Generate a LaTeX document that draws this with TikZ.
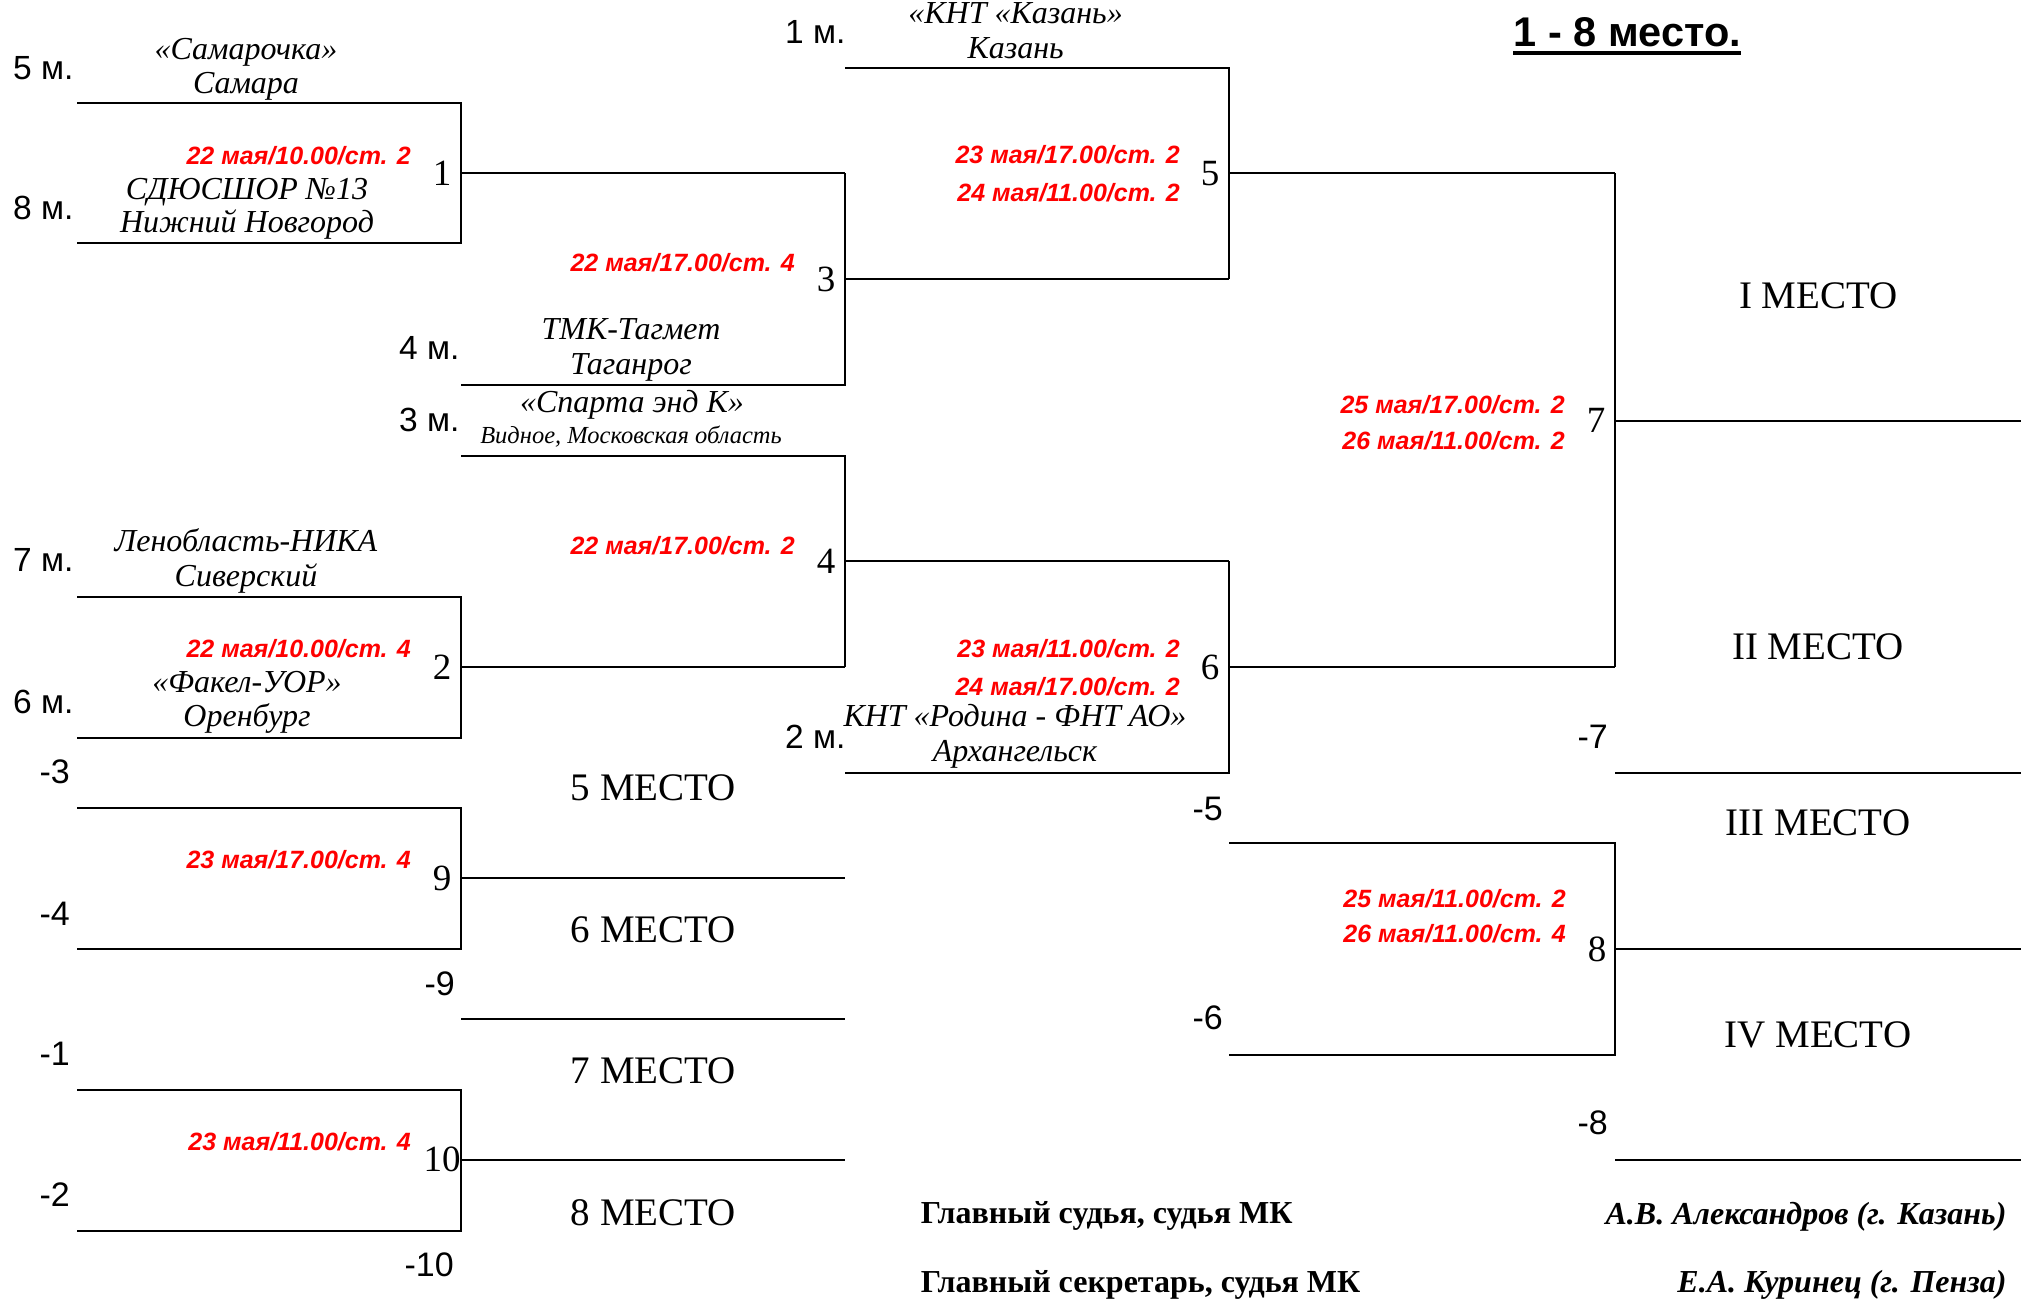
\documentclass[tikz,border=0pt]{standalone}
\usepackage{fontspec}
\setmainfont{Liberation Serif}
\newfontfamily\arial{Liberation Sans}
\begin{document}
\begin{tikzpicture}[x=1bp,y=-1bp,
  ln/.style={line width=2.2bp},
  plc/.style={font=\arial\fontsize{33.5bp}{40bp}\selectfont, inner sep=0pt, anchor=base west},
  neg/.style={font=\arial\fontsize{34bp}{40bp}\selectfont, inner sep=0pt, anchor=base east},
  team/.style={font=\itshape\fontsize{32bp}{36bp}\selectfont, inner sep=0pt, anchor=base},
  teamsmall/.style={font=\itshape\fontsize{24.5bp}{26bp}\selectfont, inner sep=0pt, anchor=base},
  sched/.style={font=\arial\bfseries\itshape\fontsize{25bp}{30bp}\selectfont, text=red, inner sep=0pt, anchor=base east},
  num/.style={font=\fontsize{37bp}{40bp}\selectfont, inner sep=0pt, anchor=base},
  placebox/.style={font=\fontsize{39bp}{44bp}\selectfont, inner sep=0pt, anchor=base},
  judge/.style={font=\bfseries\fontsize{32bp}{36bp}\selectfont, inner sep=0pt},
  judgename/.style={font=\bfseries\itshape\fontsize{32bp}{36bp}\selectfont, inner sep=0pt, anchor=base east},
]
\useasboundingbox (0,0) rectangle (2027,1300);

% ---------- coordinates ----------
% Match 1
\coordinate (s5a) at (77,103.4);  \coordinate (s5b) at (461,103.4);
\coordinate (s8a) at (77,243);    \coordinate (s8b) at (461,243);
\coordinate (w1a) at (461,173.3); \coordinate (w1b) at (845,173.3);
% Match 2
\coordinate (s7a) at (77,597);    \coordinate (s7b) at (461,597);
\coordinate (s6a) at (77,738);    \coordinate (s6b) at (461,738);
\coordinate (w2a) at (461,667);   \coordinate (w2b) at (845,667);
% Match 3
\coordinate (s4a) at (461,385);   \coordinate (s4b) at (845,385);
\coordinate (w3a) at (845,279.3); \coordinate (w3b) at (1229,279.3);
% Match 4
\coordinate (s3a) at (461,455.7); \coordinate (s3b) at (845,455.7);
\coordinate (w4a) at (845,561);   \coordinate (w4b) at (1229,561);
% Match 5
\coordinate (s1a) at (845,68);    \coordinate (s1b) at (1229,68);
\coordinate (w5a) at (1229,173.3);\coordinate (w5b) at (1615,173.3);
% Match 6
\coordinate (s2a) at (845,772.7); \coordinate (s2b) at (1229,772.7);
\coordinate (w6a) at (1229,667);  \coordinate (w6b) at (1615,667);
% Match 7
\coordinate (w7a) at (1615,420.7);\coordinate (w7b) at (2021,420.7);
\coordinate (l7a) at (1615,772.8);\coordinate (l7b) at (2021,772.8);
% Match 8
\coordinate (l5a) at (1229,843);  \coordinate (l5b) at (1615,843);
\coordinate (l6a) at (1229,1054.7);\coordinate (l6b) at (1615,1054.7);
\coordinate (w8a) at (1615,949);  \coordinate (w8b) at (2021,949);
\coordinate (l8a) at (1615,1159.7);\coordinate (l8b) at (2021,1159.7);
% Match 9
\coordinate (l3a) at (77,808);    \coordinate (l3b) at (461,808);
\coordinate (l4a) at (77,949);    \coordinate (l4b) at (461,949);
\coordinate (w9a) at (461,878);   \coordinate (w9b) at (845,878);
\coordinate (l9a) at (461,1018.7);\coordinate (l9b) at (845,1018.7);
% Match 10
\coordinate (l1a) at (77,1090);   \coordinate (l1b) at (461,1090);
\coordinate (l2a) at (77,1230.7); \coordinate (l2b) at (461,1230.7);
\coordinate (w10a) at (461,1159.7);\coordinate (w10b) at (845,1159.7);

% ---------- lines ----------
\draw[ln] (s5a) -- (s5b) -- (s8b) -- (s8a);
\draw[ln] (w1a) -- (w1b);
\draw[ln] (s7a) -- (s7b) -- (s6b) -- (s6a);
\draw[ln] (w2a) -- (w2b);
\draw[ln] (w1b) -- (s4b) -- (s4a);
\draw[ln] (w3a) -- (w3b);
\draw[ln] (s3a) -- (s3b) -- (w2b);
\draw[ln] (w4a) -- (w4b);
\draw[ln] (s1a) -- (s1b) -- (w3b);
\draw[ln] (w5a) -- (w5b);
\draw[ln] (w4b) -- (s2b) -- (s2a);
\draw[ln] (w6a) -- (w6b);
\draw[ln] (w5b) -- (w6b);
\draw[ln] (w7a) -- (w7b);
\draw[ln] (l7a) -- (l7b);
\draw[ln] (l5a) -- (l5b) -- (l6b) -- (l6a);
\draw[ln] (w8a) -- (w8b);
\draw[ln] (l8a) -- (l8b);
\draw[ln] (l3a) -- (l3b) -- (l4b) -- (l4a);
\draw[ln] (w9a) -- (w9b);
\draw[ln] (l9a) -- (l9b);
\draw[ln] (l1a) -- (l1b) -- (l2b) -- (l2a);
\draw[ln] (w10a) -- (w10b);

% ---------- seed labels ----------
\node[plc] (p5) at (13,80) {5 м.};
\node[plc] (p8) at (13,220) {8 м.};
\node[plc] (p7) at (13,571.7) {7 м.};
\node[plc] (p6) at (13,713) {6 м.};
\node[plc] (p4) at (399,360) {4 м.};
\node[plc] (p3) at (399,431.7) {3 м.};
\node[plc] (p1) at (785,43.3) {1 м.};
\node[plc] (p2) at (785,748.3) {2 м.};

% ---------- loser labels ----------
\node[neg] (n3) at (70,783) {-3};
\node[neg] (n4) at (70,925) {-4};
\node[neg] (n1) at (70,1065) {-1};
\node[neg] (n2) at (70,1206) {-2};
\node[neg] (n9) at (455,995) {-9};
\node[neg] (n10) at (454,1276.7) {-10};
\node[neg] (n5) at (1223,820) {-5};
\node[neg] (n6) at (1223,1029) {-6};
\node[neg] (n7) at (1608,748) {-7};
\node[neg] (n8) at (1608,1134.6) {-8};

% ---------- teams ----------
\node[team] (tSam1) at (246,59.3) {«Самарочка»};
\node[team] (tSam2) at (246,94) {Самара};
\node[team] (tNN1) at (247,200) {СДЮСШОР №13};
\node[team] (tNN2) at (247,233) {Нижний Новгород};
\node[team] (tLen1) at (246,551.7) {Ленобласть-НИКА};
\node[team] (tLen2) at (246,586.7) {Сиверский};
\node[team] (tFak1) at (247,692.7) {«Факел-УОР»};
\node[team] (tFak2) at (247,726.7) {Оренбург};
\node[team] (tTMK1) at (631,340) {ТМК-Тагмет};
\node[team] (tTMK2) at (631,375) {Таганрог};
\node[team] (tSpa1) at (632,412) {«Спарта энд К»};
\node[teamsmall] (tSpa2) at (631,443) {Видное, Московская область};
\node[team] (tKaz1) at (1015.6,23.3) {«КНТ «Казань»};
\node[team] (tKaz2) at (1015.6,58.3) {Казань};
\node[team] (tArh1) at (1015,726.7) {КНТ «Родина - ФНТ АО»};
\node[team] (tArh2) at (1015,761.7) {Архангельск};

% ---------- schedules ----------
\node[sched] (d1) at (411,165) {22 мая/10.00/ст. 2};
\node[sched] (d2) at (411,657) {22 мая/10.00/ст. 4};
\node[sched] (d3) at (795,271.7) {22 мая/17.00/ст. 4};
\node[sched] (d4) at (795,554) {22 мая/17.00/ст. 2};
\node[sched] (d5a) at (1180,164) {23 мая/17.00/ст. 2};
\node[sched] (d5b) at (1180,201.7) {24 мая/11.00/ст. 2};
\node[sched] (d6a) at (1180,657.3) {23 мая/11.00/ст. 2};
\node[sched] (d6b) at (1180,695) {24 мая/17.00/ст. 2};
\node[sched] (d7a) at (1565,413.3) {25 мая/17.00/ст. 2};
\node[sched] (d7b) at (1565,449.3) {26 мая/11.00/ст. 2};
\node[sched] (d8a) at (1566,907) {25 мая/11.00/ст. 2};
\node[sched] (d8b) at (1566,942.2) {26 мая/11.00/ст. 4};
\node[sched] (d9) at (411,868) {23 мая/17.00/ст. 4};
\node[sched] (d10) at (411,1150) {23 мая/11.00/ст. 4};

% ---------- match numbers ----------
\node[num] (m1) at (442,185.3) {1};
\node[num] (m2) at (442,679) {2};
\node[num] (m9) at (442,890) {9};
\node[num] (m10) at (442,1171.7) {10};
\node[num] (m3) at (826,291.3) {3};
\node[num] (m4) at (826,573) {4};
\node[num] (m5) at (1210,185.3) {5};
\node[num] (m6) at (1210,679) {6};
\node[num] (m7) at (1596,432.7) {7};
\node[num] (m8) at (1597,961) {8};

% ---------- places ----------
\node[placebox] (pl5) at (653.5,800) {5 МЕСТО};
\node[placebox] (pl6) at (653.5,942.7) {6 МЕСТО};
\node[placebox] (pl7) at (653.5,1083) {7 МЕСТО};
\node[placebox] (pl8) at (653.5,1225) {8 МЕСТО};
\node[placebox] (plI) at (1818.6,308.3) {I МЕСТО};
\node[placebox] (plII) at (1818,659.2) {II МЕСТО};
\node[placebox] (plIII) at (1818,835.7) {III МЕСТО};
\node[placebox] (plIV) at (1818,1047.6) {IV МЕСТО};

% ---------- title ----------
\node[font=\arial\bfseries\fontsize{41.5bp}{44bp}\selectfont, inner sep=0pt, anchor=base west] (title) at (1513.4,46.7) {1 - 8 место.};
\draw[line width=4bp] ([yshift=-6.6bp]title.base west) -- ([yshift=-6.6bp]title.base east);

% ---------- judges ----------
\node[judge, anchor=base west] (j1) at (920.7,1223.3) {Главный судья, судья МК};
\node[judge, anchor=base west] (j2) at (920.7,1292) {Главный секретарь, судья МК};
\node[judgename] (j1n) at (2006.7,1224) {А.В. Александров (г. Казань)};
\node[judgename] (j2n) at (2006.7,1292) {Е.А. Куринец (г. Пенза)};
\end{tikzpicture}
\end{document}
